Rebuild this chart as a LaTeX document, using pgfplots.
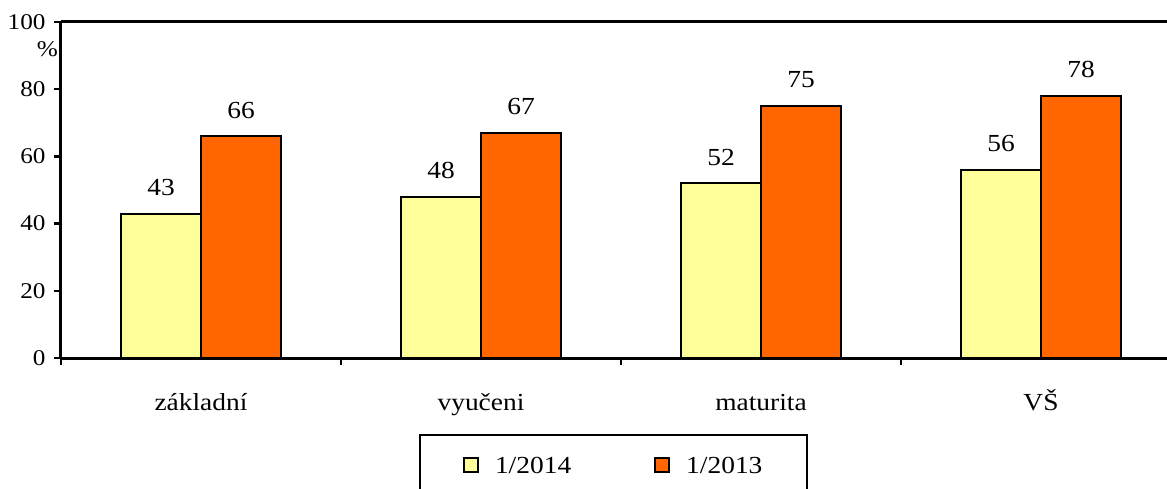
\documentclass[border=0pt]{standalone}
\usepackage{pgfplots}
\pgfplotsset{compat=1.18}
\usepackage{fontspec}
\setmainfont[FakeStretch=1.12]{Liberation Serif}
\definecolor{yel}{HTML}{FFFF99}
\definecolor{org}{HTML}{FF6600}
\begin{document}
\begin{tikzpicture}[font=\fontsize{24.5}{28}\selectfont]
\path[use as bounding box] (0,0) rectangle (1167pt,488pt);
\begin{axis}[
  at={(61pt,130pt)}, anchor=south west,
  scale only axis, width=1106pt, height=336pt,
  xmin=-0.5, xmax=3.45, ymin=0, ymax=100,
  clip=false,
  axis lines*=left,
  axis line style={line width=3pt,-},
  ybar=0pt, bar width=80pt,
  xtick={-0.5,0.5,1.5,2.5}, xticklabels={},
  extra x ticks={0,1,2,3},
  extra x tick labels={základní,vyučeni,maturita,VŠ},
  extra x tick style={major tick length=0pt, tick label style={anchor=base, yshift=-52pt}},
  ytick={0,20,...,100},
  yticklabel style={xshift=-5pt, font=\fontsize{22.5}{26}\selectfont},
  tick align=outside,
  major tick length=7pt,
  tick style={line width=2.5pt, black},
  /pgf/number format/assume math mode=true,
  nodes near coords,
  every node near coord/.append style={anchor=base, yshift=18pt, inner sep=0pt, black},
  legend style={at={(0.3237,-0.2262)}, anchor=north west, draw=black, line width=2pt,
    legend columns=2,
    /tikz/every even column/.append style={column sep=81pt},
    /tikz/every odd column/.append style={column sep=14pt},
    inner xsep=43pt, inner ysep=20pt, font=\fontsize{24.5}{28}\selectfont},
  legend image code/.code={\draw[#1, line width=2pt] (0pt,-6pt) rectangle (14pt,8pt);},
]
\addplot[fill=yel, draw=black, line width=2pt] coordinates {(0,43) (1,48) (2,52) (3,56)};
\addplot[fill=org, draw=black, line width=2pt] coordinates {(0,66) (1,67) (2,75) (3,78)};
\legend{1/2014,1/2013}
\draw[line width=3pt] (rel axis cs:0,1) -- (rel axis cs:1,1);
\node[anchor=north east, inner sep=0pt, font=\fontsize{22.5}{26}\selectfont] at ([xshift=-3pt,yshift=-19pt]rel axis cs:0,1) {\%};
\end{axis}
\end{tikzpicture}
\end{document}
